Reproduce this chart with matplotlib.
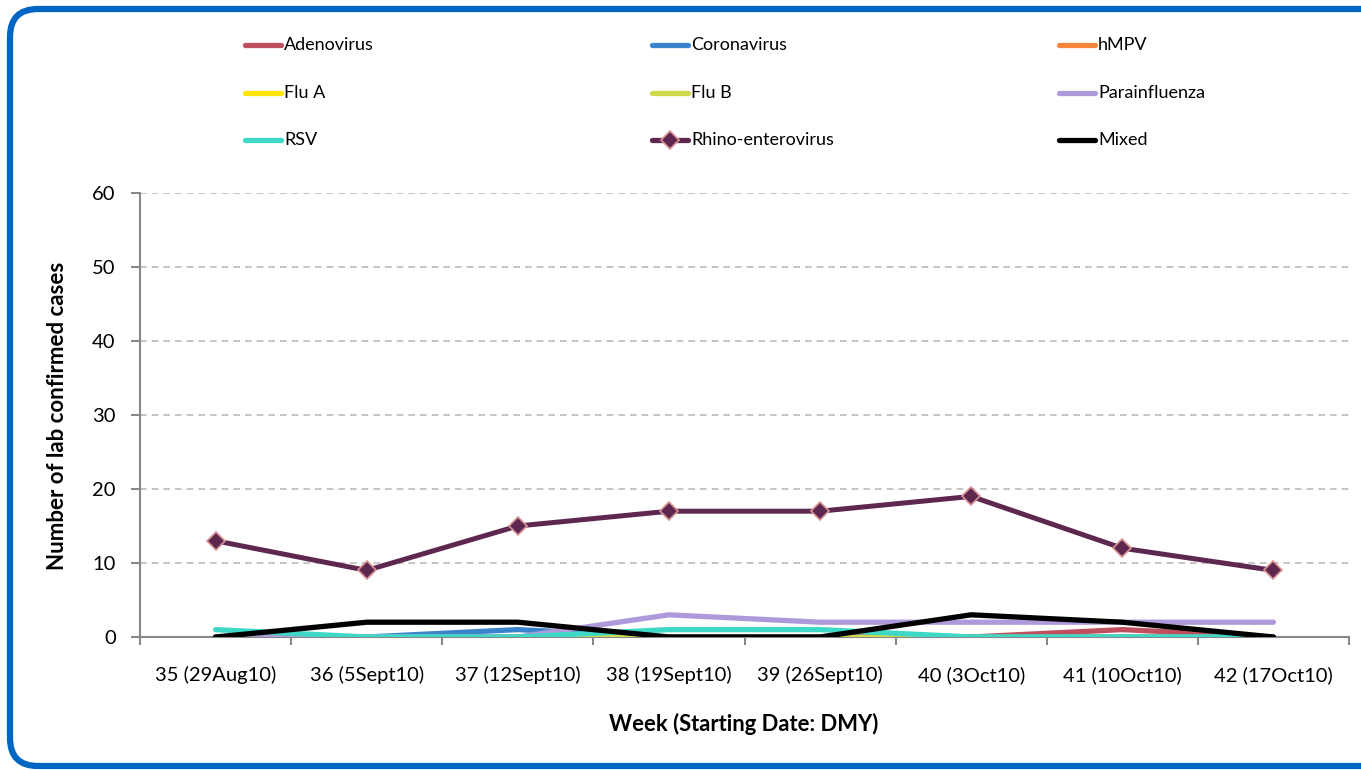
import matplotlib
matplotlib.use("Agg")
import matplotlib.pyplot as plt
from matplotlib.patches import FancyBboxPatch
from matplotlib.lines import Line2D
from matplotlib.transforms import IdentityTransform

plt.rcParams['font.family'] = ['Lato', 'DejaVu Sans']

weeks = ["35 (29Aug10)", "36 (5Sept10)", "37 (12Sept10)", "38 (19Sept10)",
         "39 (26Sept10)", "40 (3Oct10)", "41 (10Oct10)", "42 (17Oct10)"]
adenovirus = [0, 0, 0, 0, 0, 0, 1, 0]
coronavirus = [0, 0, 1, 0, 0, 0, 0, 0]
hmpv = [0, 0, 0, 0, 0, 0, 0, 0]
flu_a = [0, 0, 0, 0, 0, 0, 0, 0]
flu_b = [0, 0, 0, 0, 0, 0, 0, 0]
parainfluenza = [0, 0, 0, 3, 2, 2, 2, 2]
rsv = [1, 0, 0, 1, 1, 0, 0, 0]
rhino = [13, 9, 15, 17, 17, 19, 12, 9]
mixed = [0, 2, 2, 0, 0, 3, 2, 0]

series = [
    ("Adenovirus", adenovirus, "#C0505F"),
    ("Coronavirus", coronavirus, "#3A84CC"),
    ("hMPV", hmpv, "#F7853A"),
    ("Flu A", flu_a, "#FFE600"),
    ("Flu B", flu_b, "#D0D84C"),
    ("Parainfluenza", parainfluenza, "#AE9ADB"),
    ("RSV", rsv, "#3DD8C6"),
]
RHINO_COL = "#5E2750"
RHINO_EDGE = "#D99594"

W, H = 1361, 770
fig = plt.figure(figsize=(W / 100, H / 100), dpi=100)
ax = fig.add_axes([140 / W, 1 - 637 / H, (1349 - 140) / W, (637 - 193) / H])

x = list(range(len(weeks)))
legend_items = []
for name, vals, col in series:
    ax.plot(x, vals, color=col, lw=3.8, solid_capstyle='round', solid_joinstyle='round', zorder=3)
    legend_items.append((name, col, False))
ax.plot(x, rhino, color=RHINO_COL, lw=3.6, marker='D', markersize=9,
        markerfacecolor=RHINO_COL, markeredgecolor=RHINO_EDGE, markeredgewidth=1.2, zorder=4)
legend_items.append(("Rhino-enterovirus", RHINO_COL, True))
ax.plot(x, mixed, color="black", lw=3.8, solid_capstyle='round', solid_joinstyle='round', zorder=5)
legend_items.append(("Mixed", "black", False))

ax.set_xlim(-0.5, len(weeks) - 0.5)
ax.set_ylim(0, 60)
ax.set_yticks(range(0, 61, 10))
ax.set_xticks(x)
ax.set_xticklabels(weeks, fontsize=14.5)
ax.set_xticks([i - 0.5 for i in range(1, len(weeks))] + [-0.5, len(weeks) - 0.5], minor=True)
ax.tick_params(axis='x', which='major', length=0, pad=21)
ax.tick_params(axis='x', which='minor', length=6, color='#888888', width=1.5)
ax.tick_params(axis='y', length=6.5, color='#888888', width=1.5, labelsize=14.5, pad=11)
for yv in range(10, 61, 10):
    ax.axhline(yv, color='#BBBBBB', lw=1.2, ls=(0, (4, 3)), zorder=1)
for s in ['top', 'right']:
    ax.spines[s].set_visible(False)
for s in ['left', 'bottom']:
    ax.spines[s].set_color('#888888')
    ax.spines[s].set_linewidth(1.5)

fig.text(58 / W, 1 - 416 / H, "Number of lab confirmed cases", rotation=90,
         ha='center', va='center', fontsize=16, fontweight='bold')
fig.text(744 / W, 1 - 724 / H, "Week (Starting Date: DMY)",
         ha='center', va='center', fontsize=15.8, fontweight='bold')

# legend, laid out row by row in three columns
col_x = [243, 650, 1057]
row_y = [45, 93, 140]
for i, (name, col, marker) in enumerate(legend_items):
    r, c = divmod(i, 3)
    x0 = col_x[c]
    y0 = 1 - row_y[r] / H
    fig.add_artist(Line2D([(x0 + 2) / W, (x0 + 38) / W], [y0, y0], transform=fig.transFigure,
                          color=col, lw=3.8, solid_capstyle='round'))
    if marker:
        fig.add_artist(Line2D([(x0 + 20) / W], [y0], transform=fig.transFigure,
                              marker='D', markersize=9, markerfacecolor=col,
                              markeredgecolor=RHINO_EDGE, markeredgewidth=1.2, lw=0))
    fig.text((x0 + 41) / W, y0, name, ha='left', va='center', fontsize=13)

box = FancyBboxPatch((10, 4), 1395, 757, boxstyle="round,pad=0,rounding_size=28",
                     transform=IdentityTransform(), fill=False, edgecolor='#0066C4', lw=4.5)
fig.patches.append(box)

fig.savefig("out.png", dpi=100)
